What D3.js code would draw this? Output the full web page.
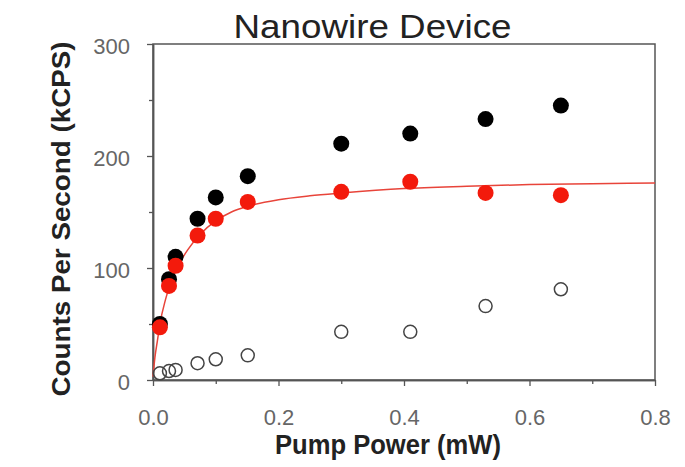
<!DOCTYPE html>
<html>
<head>
<meta charset="utf-8">
<script src="https://cdn.jsdelivr.net/npm/d3@7"></script>
<style>
  body { margin: 0; background: #fff; }
  svg text { font-family: "Liberation Sans", Arial, sans-serif; }
</style>
</head>
<body>
<div id="chart-area"></div>
<script>
// SVG Size
let width = 685,
	height = 467;

// data (pump power in mW, counts in kCPS)
let power = [0.011, 0.0255, 0.036, 0.071, 0.100, 0.151, 0.300, 0.410, 0.530, 0.650];
let totalCounts = [50, 90, 110, 144, 163, 182, 211, 220, 233, 245];
let correctedCounts = [47, 84, 102, 129, 144, 159, 168, 177, 167, 165];
let backgroundCounts = [6, 8, 9, 15, 18.5, 22, 43, 43, 66, 81];

// fitted saturation curve
let fitPower = [0, 0.003, 0.007, 0.011, 0.02, 0.03, 0.04, 0.055, 0.075, 0.1, 0.125, 0.15, 0.2, 0.25, 0.3, 0.4, 0.5, 0.6, 0.7, 0.8];
let fitCounts = [3, 20, 35, 50, 72, 90, 102, 116, 130, 142, 150, 155, 161, 164.5, 167, 171, 173, 174.5, 175.3, 176];

let xTicks = [0, 0.2, 0.4, 0.6, 0.8];
let xMinorTicks = [0.1, 0.3, 0.5, 0.7];
let yTicks = [0, 100, 200, 300];
let yMinorTicks = [50, 150, 250];

let plotLeft = 153, plotRight = 655, plotTop = 44, plotBottom = 380;

let svg = d3.select("#chart-area").append("svg")
	.attr("width", width)
	.attr("height", height);

let XScale = d3.scaleLinear()
	.domain([0, 0.8])
	.range([plotLeft, plotRight]);
let YScale = d3.scaleLinear()
	.domain([0, 300])
	.range([plotBottom, plotTop]);

// frame
svg.append("rect")
	.attr("x", plotLeft)
	.attr("y", plotTop)
	.attr("width", plotRight - plotLeft)
	.attr("height", plotBottom - plotTop)
	.attr("fill", "none")
	.attr("stroke", "#555")
	.attr("stroke-width", 1.5);

// The Axis
let xAxis = d3.axisBottom(XScale)
	.tickValues(xTicks)
	.tickFormat(d3.format(".1f"))
	.tickSize(6)
	.tickSizeOuter(0)
	.tickPadding(19);
let xMinor = d3.axisBottom(XScale)
	.tickValues(xMinorTicks)
	.tickFormat("")
	.tickSize(4)
	.tickSizeOuter(0);
let yAxis = d3.axisLeft(YScale)
	.tickValues(yTicks)
	.tickSize(6)
	.tickSizeOuter(0)
	.tickPadding(17);
let yMinor = d3.axisLeft(YScale)
	.tickValues(yMinorTicks)
	.tickFormat("")
	.tickSize(4)
	.tickSizeOuter(0);

[[xAxis, "x-axis"], [xMinor, "x-minor"]].forEach(a => {
	svg.append("g")
		.attr("class", "axis " + a[1])
		.attr("transform", "translate(0," + plotBottom + ")")
		.call(a[0]);
});
[[yAxis, "y-axis"], [yMinor, "y-minor"]].forEach(a => {
	svg.append("g")
		.attr("class", "axis " + a[1])
		.attr("transform", "translate(" + plotLeft + ",0)")
		.call(a[0]);
});

svg.selectAll(".axis path").attr("stroke", "#555").attr("stroke-width", 1.5);
svg.selectAll(".axis line").attr("stroke", "#555").attr("stroke-width", 1.3);
svg.selectAll(".axis text")
	.attr("fill", "#666")
	.style("font-size", "22px");
svg.selectAll(".x-axis text").attr("dy", "0.9em");
svg.selectAll(".y-axis text").attr("dy", "0.42em");

// fit line
let line = d3.line()
	.x((d, i) => XScale(fitPower[i]))
	.y(d => YScale(d))
	.curve(d3.curveMonotoneX);

svg.append("path")
	.datum(fitCounts)
	.attr("d", line)
	.attr("fill", "none")
	.attr("stroke", "#e8443a")
	.attr("stroke-width", 1.5);

// background counts (open circles)
svg.selectAll(".bg-circle").data(backgroundCounts)
	.enter()
	.append("circle")
	.attr("class", "bg-circle")
	.attr("cx", (d, i) => XScale(power[i]))
	.attr("cy", d => YScale(d))
	.attr("r", 6.5)
	.attr("fill", "none")
	.attr("stroke", "#444")
	.attr("stroke-width", 1.5);

// total counts (black)
svg.selectAll(".total-circle").data(totalCounts)
	.enter()
	.append("circle")
	.attr("class", "total-circle")
	.attr("cx", (d, i) => XScale(power[i]))
	.attr("cy", d => YScale(d))
	.attr("r", 8)
	.attr("fill", "#000");

// corrected counts (red)
svg.selectAll(".corr-circle").data(correctedCounts)
	.enter()
	.append("circle")
	.attr("class", "corr-circle")
	.attr("cx", (d, i) => XScale(power[i]))
	.attr("cy", d => YScale(d))
	.attr("r", 8)
	.attr("fill", "#f31a0c");

// titles
svg.append("text")
	.attr("x", (233 + 512) / 2)
	.attr("y", 38)
	.attr("text-anchor", "middle")
	.attr("fill", "#222")
	.attr("textLength", 278)
	.attr("lengthAdjust", "spacingAndGlyphs")
	.style("font-size", "33px")
	.text("Nanowire Device");

svg.append("text")
	.attr("x", 388)
	.attr("y", 454)
	.attr("text-anchor", "middle")
	.attr("fill", "#222")
	.attr("textLength", 226)
	.attr("lengthAdjust", "spacingAndGlyphs")
	.style("font-size", "27px")
	.style("font-weight", "bold")
	.text("Pump Power (mW)");

svg.append("text")
	.attr("transform", "translate(70," + 219 + ") rotate(-90)")
	.attr("text-anchor", "middle")
	.attr("fill", "#222")
	.attr("textLength", 355)
	.attr("lengthAdjust", "spacingAndGlyphs")
	.style("font-size", "25px")
	.style("font-weight", "bold")
	.text("Counts Per Second (kCPS)");
</script>
</body>
</html>
